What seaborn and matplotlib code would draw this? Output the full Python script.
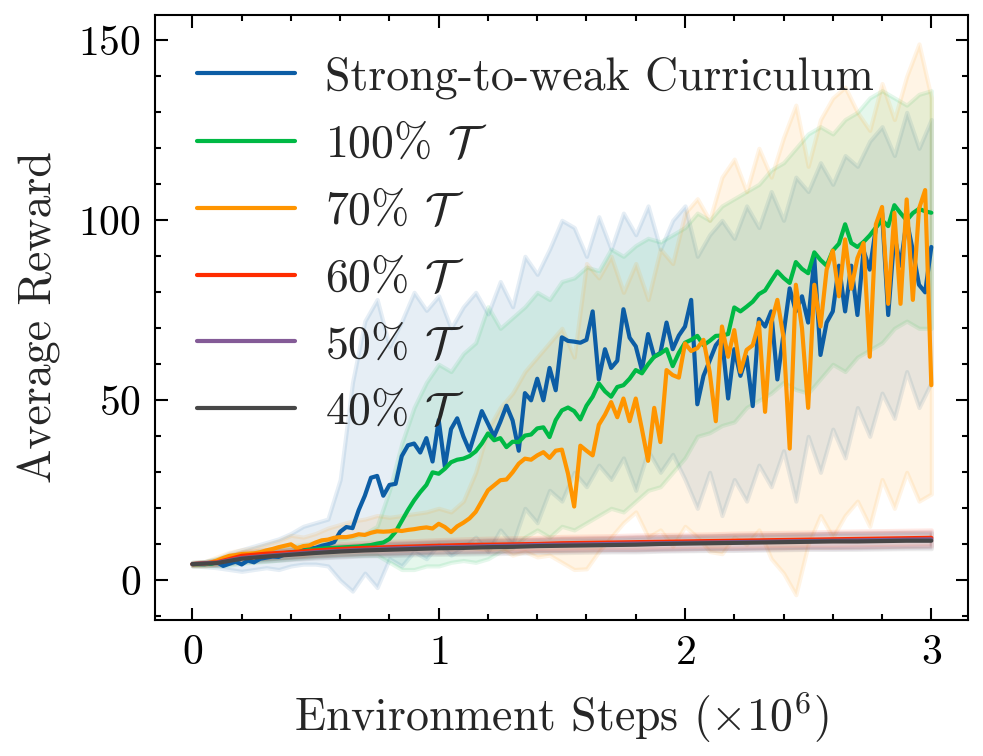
import numpy as np
import pandas as pd
import matplotlib
matplotlib.use("Agg")
import matplotlib.pyplot as plt
import seaborn as sns

# Data
steps = np.linspace(0, 3, 121)          # x10^6 env steps, fine grid for mean curves
band_steps = np.linspace(0, 3, 61)      # grid for the shaded bands
low_steps = np.linspace(0, 3, 31)       # grid for the flat low curves

curriculum = [4.5, 4.5, 4.5, 4.7, 5.0, 4.0, 4.6, 5.2, 4.4, 5.5,
              5.0, 6.0, 6.3, 6.6, 6.5, 7.2, 7.8, 7.5, 8.5, 8.8,
              9.0, 9.6, 10.0, 10.6, 13.5, 14.8, 14.5, 19.5, 23.5, 28.5,
              29.0, 23.5, 26.5, 26.8, 34.5, 37.5, 38.0, 35.5, 39.5, 33.0,
              44.5, 31.5, 42.0, 45.0, 40.0, 36.0, 41.5, 47.0, 43.5, 40.0,
              44.0, 48.5, 44.4, 36.0, 52.0, 50.0, 56.0, 50.0, 59.0, 52.8,
              67.5, 66.5, 66.3, 66.0, 66.8, 74.7, 55.8, 64.2, 59.0, 61.0,
              75.3, 67.4, 65.0, 58.4, 68.4, 62.1, 63.2, 71.6, 64.2, 68.0,
              70.5, 77.9, 48.9, 56.8, 61.0, 65.3, 67.4, 50.5, 64.2, 56.8,
              62.1, 48.4, 72.6, 70.5, 74.7, 55.8, 68.4, 81.1, 74.7, 78.9,
              71.6, 89.5, 62.6, 71.6, 74.7, 87.4, 74.7, 87.4, 73.7, 91.6,
              86.3, 97.9, 102.1, 73.7, 95.8, 87.4, 100.0, 91.6, 82.1, 80.0,
              92.6]
t100 = [4.5, 4.5, 4.5, 4.6, 5.0, 5.4, 5.6, 5.8, 6.2, 6.4,
        6.6, 6.9, 7.0, 7.3, 7.5, 7.6, 7.8, 8.0, 8.2, 8.5,
        8.6, 8.8, 9.0, 9.0, 9.1, 9.2, 9.3, 9.4, 9.6, 9.8,
        10.2, 10.5, 11.5, 13.5, 16.5, 19.5, 22.2, 24.5, 26.5, 30.0,
        29.6, 31.0, 32.8, 33.5, 33.8, 34.5, 35.8, 38.0, 40.8, 38.9,
        39.5, 37.0, 38.5, 38.4, 40.2, 40.5, 42.2, 42.5, 39.8, 44.5,
        47.2, 48.0, 47.0, 44.7, 48.5, 51.0, 54.7, 52.5, 51.0, 53.7,
        54.2, 56.0, 58.4, 57.5, 60.0, 62.1, 63.0, 64.2, 59.5, 63.2,
        66.0, 66.8, 67.9, 65.3, 66.5, 67.9, 68.0, 68.4, 75.8, 74.7,
        76.0, 77.4, 79.5, 80.5, 83.2, 85.8, 84.0, 82.6, 88.4, 86.5,
        85.3, 91.1, 89.0, 87.4, 91.6, 93.5, 98.9, 93.7, 92.6, 94.0,
        95.8, 98.0, 100.0, 98.4, 104.2, 102.0, 100.0, 102.0, 103.2, 102.5,
        102.1]
t70 = [4.5, 4.5, 4.6, 4.9, 5.5, 6.2, 6.8, 7.0, 7.3, 7.4,
       7.5, 7.8, 8.3, 8.7, 9.2, 9.6, 10.0, 8.9, 9.5, 9.7,
       10.5, 11.1, 11.3, 11.8, 12.0, 12.0, 12.3, 12.8, 12.6, 13.2,
       13.6, 13.5, 13.6, 13.9, 13.7, 14.0, 14.2, 14.5, 14.7, 14.4,
       15.7, 14.8, 13.4, 15.0, 16.0, 17.2, 19.0, 22.0, 25.0, 26.4,
       27.8, 28.0, 30.0, 32.4, 33.8, 33.5, 34.7, 35.6, 34.0, 36.0,
       36.3, 29.6, 20.5, 37.4, 36.0, 34.7, 43.2, 46.0, 49.5, 45.3,
       50.5, 44.2, 50.5, 42.0, 33.2, 47.9, 38.4, 58.4, 57.0, 56.3,
       65.8, 63.7, 64.5, 66.8, 57.9, 44.2, 70.5, 62.1, 69.5, 57.9,
       64.0, 65.3, 71.6, 46.8, 71.6, 77.9, 67.4, 36.6, 82.1, 70.0,
       47.9, 82.1, 70.5, 86.3, 91.6, 78.9, 94.7, 81.0, 89.5, 93.7,
       62.1, 98.9, 103.7, 76.8, 102.1, 76.8, 105.8, 77.9, 103.2, 108.4,
       54.2]

curriculum_hi = [5, 5.2, 6, 7.5, 8.5, 9.5, 10.5, 11.5, 13, 15, 16, 17, 28, 55, 72, 78,
                 65, 72, 80, 75, 79, 70, 76, 80, 74, 83, 76, 90, 85, 92, 100, 98, 90,
                 101, 92, 102, 96, 104, 92, 100, 104, 90, 96, 100, 95, 104, 98, 108,
                 100, 112, 108, 116, 110, 118, 115, 122, 126, 118, 130, 120, 128]
curriculum_lo = [4.0, 3.8, 3.5, 3, 2.5, 3, 3.5, 3, 4, 4.5, 4.5, 4, 0, -3, 2, -2, 6, 4,
                 8, 6, 10, 7, 9, 12, 8, 14, 10, 20, 16, 25, 22, 30, 26, 32, 28, 34,
                 25, 36, 30, 35, 28, 20, 30, 18, 28, 22, 32, 26, 36, 22, 40, 30, 42,
                 34, 48, 40, 52, 45, 58, 48, 55]
t100_hi = [5, 5.2, 6, 6.8, 7.5, 8, 8.5, 9, 9.5, 10, 10.5, 11, 11.5, 12, 13, 15, 25,
           38, 48, 55, 60, 58, 63, 66, 76, 70, 73, 76, 80, 78, 83, 84, 87, 86, 92,
           90, 93, 95, 94, 96, 98, 102, 100, 104, 106, 108, 110, 114, 116, 120, 124,
           126, 124, 128, 130, 134, 136, 134, 132, 135, 136]
t100_lo = [4.0, 4.0, 4.0, 4.2, 4.8, 5, 5.3, 5.6, 6, 6.3, 6.6, 6.8, 7, 7, 7, 7, 5, 3,
           3, 4, 4, 5, 5.5, 5, 6, 8, 9, 12, 14, 12, 15, 14, 16, 18, 20, 19, 22, 25,
           26, 30, 34, 40, 41, 43, 44, 48, 50, 52, 55, 53, 52, 56, 60, 58, 62, 64,
           66, 70, 72, 70, 70]
t70_hi = [5, 5.2, 6.5, 7.8, 8.5, 9, 10, 11, 12.5, 12, 13, 14.5, 15.5, 16.5, 17, 18,
          17.5, 18, 18.5, 19, 20, 19, 22, 30, 42, 48, 52, 58, 62, 66, 70, 62, 88, 84,
          90, 80, 88, 78, 92, 88, 102, 106, 100, 112, 117, 108, 120, 112, 123, 132,
          115, 128, 134, 137, 130, 125, 138, 128, 140, 149, 134]
t70_lo = [4, 4, 4.5, 5.2, 5.8, 6, 6.3, 7, 7.5, 7, 8, 8.5, 8.5, 9, 9, 9, 9.5, 9.5,
          9.5, 10, 10, 9, 9.5, 9, 8.5, 9, 7, 8, 6.5, 7, 5, 3, 3.2, 8, 12, 16, 19,
          12, 14, 9.5, 15, 12, 8, 7.4, 12, 10, 14, 6, 2, -4, 10, 18, 12, 18, 22, 15,
          28, 20, 30, 22, 24]

t60 = [4.5, 5.0, 6.8, 7.4, 7.8, 8.3, 8.7, 9.0, 9.2, 9.4, 9.6, 9.8, 9.9, 10.0, 10.1,
       10.3, 10.4, 10.5, 10.6, 10.7, 10.8, 10.9, 11.0, 11.1, 11.2, 11.3, 11.4, 11.5,
       11.6, 11.7, 11.8]
t50 = [4.5, 4.9, 6.2, 6.8, 7.3, 7.8, 8.2, 8.5, 8.8, 9.0, 9.2, 9.3, 9.5, 9.6, 9.8,
       9.9, 10.0, 10.1, 10.2, 10.3, 10.4, 10.5, 10.6, 10.7, 10.8, 10.9, 11.0, 11.1,
       11.2, 11.3, 11.4]
t40 = [4.5, 4.8, 6.0, 6.6, 7.1, 7.6, 8.0, 8.3, 8.5, 8.7, 8.9, 9.0, 9.2, 9.3, 9.5,
       9.6, 9.7, 9.8, 9.9, 10.1, 10.2, 10.3, 10.4, 10.5, 10.6, 10.7, 10.8, 10.8,
       10.9, 11.0, 11.0]
low_spread = [0.3, 0.6, 1.0, 1.2, 1.3, 1.4, 1.5, 1.5, 1.6, 1.6, 1.7, 1.7, 1.8, 1.8,
              1.8, 1.9, 1.9, 1.9, 2.0, 2.0, 2.0, 2.0, 2.1, 2.1, 2.1, 2.1, 2.2, 2.2,
              2.2, 2.2, 2.2]

labels = ["Strong-to-weak Curriculum", r"100% $\mathcal{T}$", r"70% $\mathcal{T}$",
          r"60% $\mathcal{T}$", r"50% $\mathcal{T}$", r"40% $\mathcal{T}$"]
colors = ["#0C5DA5", "#00B945", "#FF9500", "#FF2C00", "#845B97", "#474747"]

# Style (SciencePlots-like)
sns.set_style("ticks")
plt.rcParams.update({
    "font.family": ["cmr10", "DejaVu Serif"],
    "mathtext.fontset": "cm",
    "axes.formatter.use_mathtext": True,
    "axes.unicode_minus": False,
    "font.size": 10,
    "axes.labelsize": 11,
    "legend.fontsize": 11,
    "axes.linewidth": 0.5,
    "xtick.direction": "in", "ytick.direction": "in",
    "xtick.top": True, "ytick.right": True,
    "xtick.major.size": 3, "ytick.major.size": 3,
    "xtick.minor.size": 1.5, "ytick.minor.size": 1.5,
    "xtick.major.width": 0.5, "ytick.major.width": 0.5,
    "xtick.minor.width": 0.5, "ytick.minor.width": 0.5,
    "xtick.minor.visible": True, "ytick.minor.visible": True,
    "xtick.color": "black", "ytick.color": "black",
    "axes.edgecolor": "black",
})

fig, ax = plt.subplots(figsize=(3.28, 2.52), dpi=300)

# Shaded bands
bands = [(band_steps, curriculum_lo, curriculum_hi),
         (band_steps, t100_lo, t100_hi),
         (band_steps, t70_lo, t70_hi)]
for (bx, lo, hi), c in zip(bands, colors[:3]):
    ax.fill_between(bx, lo, hi, color=c, alpha=0.1, linewidth=1.0)
for y, c in zip([t60, t50, t40], colors[3:]):
    y = np.array(y)
    sp = np.array(low_spread)
    ax.fill_between(low_steps, y - sp, y + sp, color=c, alpha=0.1, linewidth=1.0)

# Mean curves
series = [(steps, curriculum), (steps, t100), (steps, t70),
          (low_steps, t60), (low_steps, t50), (low_steps, t40)]
for (sx, sy), lab, c in zip(series, labels, colors):
    df = pd.DataFrame({"step": sx, "reward": sy})
    sns.lineplot(data=df, x="step", y="reward", ax=ax, color=c, label=lab,
                 linewidth=1.0)

ax.set_xlim(-0.15, 3.15)
ax.set_ylim(-11, 157)
ax.set_xticks([0, 1, 2, 3])
ax.set_yticks([0, 50, 100, 150])
ax.set_xticks(np.arange(0, 3.01, 0.2), minor=True)
ax.set_yticks(np.arange(-10, 156, 10), minor=True)
ax.set_xlabel(r"Environment Steps ($\times 10^6$)")
ax.set_ylabel("Average Reward")

ax.legend(loc="upper left", frameon=False, handlelength=2.15, handletextpad=0.65)

fig.subplots_adjust(left=0.158, right=0.984, bottom=0.18, top=0.98)
fig.savefig("out.png", dpi=300)
